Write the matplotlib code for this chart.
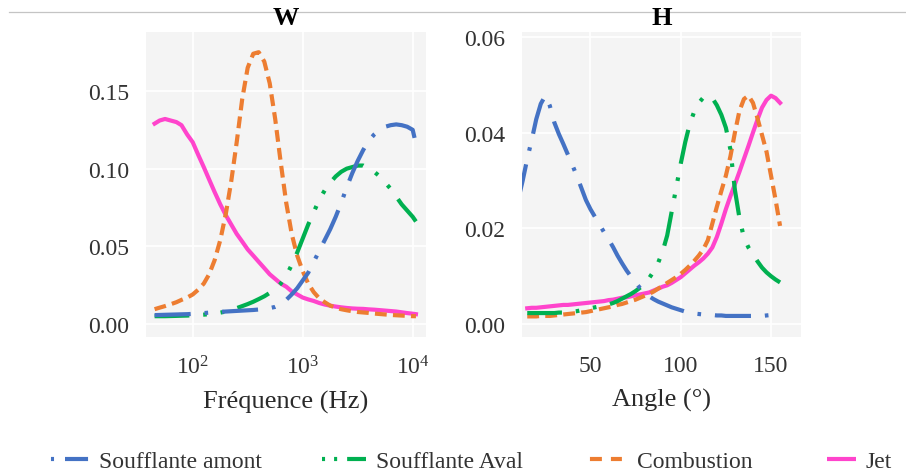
import matplotlib
matplotlib.use("Agg")
import matplotlib.pyplot as plt
from matplotlib.lines import Line2D
from matplotlib.ticker import NullLocator

plt.rcParams['font.family'] = ['Liberation Serif', 'DejaVu Serif']
plt.rcParams['mathtext.fontset'] = 'custom'
plt.rcParams['mathtext.rm'] = 'Liberation Serif'
plt.rcParams['lines.scale_dashes'] = False

# ---------------- data ----------------
series_names = ["Soufflante amont", "Soufflante Aval", "Combustion", "Jet"]

# Directivity W versus frequency (Hz)
freq_hz = [45, 50, 56, 63, 71, 79, 89, 100, 112, 126,
           141, 158, 178, 200, 224, 251, 282, 316, 355, 398,
           447, 501, 562, 631, 708, 794, 891, 1000, 1122, 1259,
           1413, 1585, 1778, 1995, 2239, 2512, 2818, 3162, 3548, 3981,
           4467, 5012, 5623, 6310, 7079, 7943, 8913, 10000, 10700]

w_amont = [0.0057, 0.0058, 0.0059, 0.0060, 0.0061, 0.0062, 0.0063, 0.0065, 0.0067, 0.0070,
           0.0073, 0.0076, 0.0078, 0.0080, 0.0082, 0.0084, 0.0086, 0.0088, 0.0090, 0.0093,
           0.0097, 0.0102, 0.0110, 0.0125, 0.0155, 0.019, 0.023, 0.028, 0.033, 0.040,
           0.047, 0.054, 0.061, 0.069, 0.078, 0.088, 0.097, 0.105, 0.112, 0.118,
           0.122, 0.125, 0.127, 0.128, 0.1285, 0.128, 0.127, 0.125, 0.116]
w_aval = [0.0050, 0.0050, 0.0050, 0.0051, 0.0052, 0.0053, 0.0054, 0.0056, 0.0058, 0.0060,
          0.0063, 0.0067, 0.0073, 0.0080, 0.0090, 0.0102, 0.0115, 0.0128, 0.0143, 0.0160,
          0.0178, 0.0200, 0.0225, 0.026, 0.031, 0.038, 0.046, 0.055, 0.064, 0.072,
          0.080, 0.086, 0.091, 0.095, 0.098, 0.100, 0.101, 0.102, 0.102, 0.100,
          0.098, 0.095, 0.091, 0.087, 0.082, 0.077, 0.073, 0.069, 0.066]
w_combustion = [0.0095, 0.0105, 0.0115, 0.0127, 0.0140, 0.0155, 0.0170, 0.0190, 0.0220, 0.026,
                0.032, 0.041, 0.054, 0.071, 0.092, 0.117, 0.145, 0.165, 0.174, 0.175,
                0.169, 0.155, 0.132, 0.104, 0.078, 0.058, 0.044, 0.034, 0.026, 0.0205,
                0.0165, 0.0140, 0.0118, 0.0105, 0.0095, 0.0088, 0.0082, 0.0077, 0.0074, 0.0071,
                0.0067, 0.0064, 0.0061, 0.0058, 0.0056, 0.0054, 0.0052, 0.0050, 0.0050]
w_jet = [0.129, 0.131, 0.132, 0.131, 0.130, 0.128, 0.122, 0.117, 0.109, 0.101,
         0.093, 0.085, 0.077, 0.070, 0.064, 0.058, 0.053, 0.048, 0.044, 0.040,
         0.036, 0.032, 0.029, 0.026, 0.024, 0.021, 0.019, 0.017, 0.0158, 0.0148,
         0.0135, 0.0125, 0.0118, 0.0112, 0.0107, 0.0103, 0.0100, 0.0098, 0.0097, 0.0094,
         0.0092, 0.0089, 0.0086, 0.0083, 0.0080, 0.0075, 0.0070, 0.0066, 0.0063]

# Directivity H versus angle (degrees)
angle_deg = [10, 12.5, 15, 17.5, 20, 22.5, 25, 27.5, 30, 32.5,
             35, 37.5, 40, 42.5, 45, 47.5, 50, 52.5, 55, 57.5,
             60, 62.5, 65, 67.5, 70, 72.5, 75, 77.5, 80, 82.5,
             85, 87.5, 90, 92.5, 95, 97.5, 100, 102.5, 105, 107.5,
             110, 112.5, 115, 117.5, 120, 122.5, 125, 127.5, 130, 132.5,
             135, 137.5, 140, 142.5, 145, 147.5, 150, 152.5, 155]

nan = float("nan")
h_amont = [0.026, 0.030, 0.0345, 0.0385, 0.0428, 0.0460, 0.0477, 0.0456, 0.0421, 0.0397,
           0.0376, 0.0354, 0.0332, 0.0309, 0.0284, 0.0259, 0.0240, 0.0224, 0.0208, 0.0192,
           0.0177, 0.0161, 0.0143, 0.0127, 0.0112, 0.0099, 0.0087, 0.0075, 0.0066, 0.0058,
           0.0052, 0.0047, 0.0043, 0.0039, 0.0035, 0.0032, 0.0029, 0.0026, 0.0024, 0.0022,
           0.0021, 0.0020, 0.0019, 0.0019, 0.0018, 0.0018, 0.0017, 0.0017, 0.0017, 0.0017,
           0.0017, 0.0017, 0.0017, 0.0017, 0.0017, 0.0018, 0.0019, 0.0022, 0.0028]
h_aval = [nan, nan, 0.0023, 0.0023, 0.0023, 0.0023, 0.0023, 0.0023, 0.0023, 0.0024,
          0.0024, 0.0025, 0.0026, 0.0027, 0.0029, 0.0031, 0.0033, 0.0035, 0.0037, 0.0039,
          0.0041, 0.0044, 0.0048, 0.0053, 0.0058, 0.0063, 0.0069, 0.0076, 0.0084, 0.0096,
          0.0110, 0.0128, 0.0152, 0.0185, 0.0235, 0.0285, 0.0335, 0.0380, 0.0418, 0.0444,
          0.0462, 0.0473, 0.0477, 0.0472, 0.0457, 0.0437, 0.0410, 0.0365, 0.0280, 0.0222,
          0.0180, 0.0160, 0.0146, 0.0131, 0.0118, 0.0108, 0.0100, 0.0093, 0.0087]
h_combustion = [nan, nan, 0.0016, 0.0016, 0.0016, 0.0017, 0.0017, 0.0017, 0.0018, 0.0019,
                0.0020, 0.0021, 0.0022, 0.0023, 0.0024, 0.0025, 0.0027, 0.0029, 0.0031, 0.0033,
                0.0035, 0.0037, 0.0040, 0.0042, 0.0045, 0.0048, 0.0051, 0.0055, 0.0059, 0.0063,
                0.0068, 0.0074, 0.0080, 0.0086, 0.0092, 0.0098, 0.0105, 0.0113, 0.0122, 0.0132,
                0.0143, 0.0156, 0.0175, 0.0210, 0.0245, 0.0278, 0.0310, 0.0350, 0.0400, 0.0445,
                0.0470, 0.0477, 0.0462, 0.0430, 0.0395, 0.0360, 0.0310, 0.0260, 0.0205]
h_jet = [nan, nan, 0.0033, 0.0034, 0.0034, 0.0035, 0.0036, 0.0037, 0.0038, 0.0039,
         0.0040, 0.0040, 0.0041, 0.0042, 0.0043, 0.0044, 0.0045, 0.0046, 0.0047, 0.0048,
         0.0050, 0.0051, 0.0053, 0.0055, 0.0056, 0.0058, 0.0060, 0.0062, 0.0064, 0.0066,
         0.0070, 0.0074, 0.0078, 0.0081, 0.0086, 0.0092, 0.0098, 0.0106, 0.0114, 0.0122,
         0.0129, 0.0137, 0.0147, 0.0160, 0.0182, 0.0210, 0.0240, 0.0267, 0.0292, 0.0318,
         0.0345, 0.0372, 0.0400, 0.0427, 0.0452, 0.0468, 0.0477, 0.0472, 0.0462]

w_ticks = [100, 1000, 10000]
w_tick_labels = [r"$\mathregular{10^{2}}$", r"$\mathregular{10^{3}}$", r"$\mathregular{10^{4}}$"]
w_yticks = [0.0, 0.05, 0.10, 0.15]
h_ticks = [50, 100, 150]
h_yticks = [0.0, 0.02, 0.04, 0.06]

# ---------------- styles ----------------
colors = ["#4472c4", "#00b050", "#ed7d31", "#ff44cc"]
# dash patterns in points (unscaled)
styles = [(0, (26, 10, 2.6, 10)),
          (0, (25, 10, 2.6, 10, 2.6, 10)),
          (0, (8.5, 4.5)),
          "-"]
# compact patterns for the legend keys
legend_styles = [(27.4, (2.2, 7.9, 16.6, 5.0)),
                 (0, (2.2, 6.5, 2.2, 7.2, 13.7, 0.7)),
                 (26.6, (8.6, 6.5, 7.9, 8.6)),
                 (20.9, (20.9, 10.8))]
LW = 3.0
TXT = "#333333"

fig = plt.figure(figsize=(9.06, 4.77), dpi=100)
ax_w = fig.add_axes([146 / 906, 1 - 338 / 477, 280 / 906, 305 / 477])
ax_h = fig.add_axes([522 / 906, 1 - 338 / 477, 279 / 906, 305 / 477])

w_series = [w_amont, w_aval, w_combustion, w_jet]
h_series = [h_amont, h_aval, h_combustion, h_jet]

for i in range(4):
    z = 10 - i
    ax_w.plot(freq_hz, w_series[i], color=colors[i], linestyle=styles[i],
              lw=LW, zorder=z, label=series_names[i])
    ax_h.plot(angle_deg, h_series[i], color=colors[i], linestyle=styles[i],
              lw=LW, zorder=z)

legend_keys = [Line2D([], [], color=colors[i], linestyle=legend_styles[i], lw=LW)
               for i in range(4)]

for ax in (ax_w, ax_h):
    ax.set_facecolor("#f4f4f4")
    for s in ax.spines.values():
        s.set_visible(False)
    ax.grid(True, color="white", lw=1.3)
    ax.set_axisbelow(True)
    ax.tick_params(length=0, labelsize=17, colors=TXT)
    ax.tick_params(axis="y", pad=12)
    ax.tick_params(axis="x", pad=13)

ax_w.set_xscale("log")
ax_w.set_xlim(10 ** 1.575, 10 ** 4.121)
ax_w.set_xticks(w_ticks)
ax_w.set_xticklabels(w_tick_labels)
ax_w.xaxis.set_minor_locator(NullLocator())
ax_w.set_ylim(-0.0084, 0.188)
ax_w.set_yticks(w_yticks)
ax_w.set_yticklabels([f"{v:.2f}" for v in w_yticks])

ax_h.set_xlim(12.1, 166.6)
ax_h.set_xticks(h_ticks)
ax_h.set_xticklabels([str(v) for v in h_ticks])
ax_h.set_ylim(-0.0027, 0.061)
ax_h.set_yticks(h_yticks)
ax_h.set_yticklabels([f"{v:.2f}" for v in h_yticks])

ax_w.set_title("W", fontsize=19, fontweight="bold", pad=6)
ax_h.set_title("H", fontsize=19, fontweight="bold", pad=6)
ax_w.set_xlabel("Fréquence (Hz)", fontsize=19, color="#2a2a2a", labelpad=8.5)
ax_h.set_xlabel("Angle (°)", fontsize=19, color="#2a2a2a", labelpad=8.5)

fig.legend(legend_keys, series_names, loc="center", bbox_to_anchor=(0.5174, 1 - 462 / 477),
           ncol=4, frameon=False, fontsize=17, handlelength=1.86,
           handletextpad=0.42, columnspacing=2.54, labelcolor=TXT)

fig.add_artist(Line2D([9 / 906, 1.0], [1 - 13.3 / 477] * 2, color="#c4c4c4",
                      lw=0.9, zorder=0))

fig.savefig("out.png", dpi=100)
